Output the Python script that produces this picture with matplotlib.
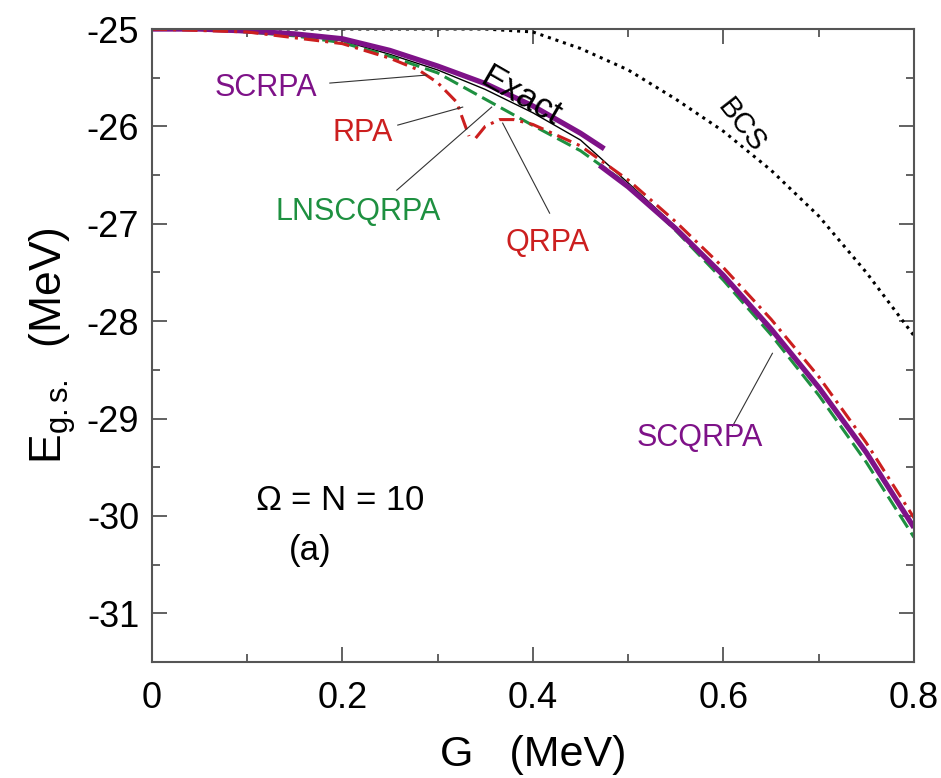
import matplotlib
matplotlib.use('Agg')
import matplotlib.pyplot as plt
from matplotlib.ticker import MultipleLocator

plt.rcParams['font.family'] = ['Liberation Sans', 'DejaVu Sans']
plt.rcParams['mathtext.fontset'] = 'custom'
plt.rcParams['mathtext.rm'] = 'Liberation Sans'
plt.rcParams['mathtext.it'] = 'Liberation Sans'
plt.rcParams['axes.unicode_minus'] = False

# values (G in MeV, E in MeV)
g_bcs = [0, 0.1, 0.2, 0.3, 0.35, 0.4, 0.45, 0.5, 0.55, 0.6, 0.65, 0.7, 0.75, 0.8]
e_bcs = [-25, -25, -25, -25, -25.0, -25.03, -25.2, -25.42, -25.72, -26.05, -26.45, -26.92, -27.5, -28.15]

g_exact = [0, 0.1, 0.2, 0.25, 0.3, 0.35, 0.4, 0.45, 0.5, 0.55, 0.6, 0.65, 0.7, 0.75, 0.8]
e_exact = [-25, -25.02, -25.12, -25.26, -25.42, -25.62, -25.86, -26.14, -26.58, -27.03, -27.52, -28.07, -28.66, -29.33, -30.10]

g_scrpa = [0, 0.05, 0.1, 0.15, 0.2, 0.25, 0.3, 0.35, 0.4, 0.45, 0.475]
e_scrpa = [-25, -25.0, -25.02, -25.05, -25.10, -25.22, -25.38, -25.56, -25.79, -26.07, -26.23]

g_scqrpa = [0.47, 0.5, 0.55, 0.6, 0.65, 0.7, 0.75, 0.8]
e_scqrpa = [-26.40, -26.62, -27.05, -27.53, -28.08, -28.68, -29.35, -30.12]

g_lnscqrpa = [0, 0.05, 0.1, 0.15, 0.2, 0.25, 0.3, 0.35, 0.4, 0.45, 0.5, 0.55, 0.6, 0.65, 0.7, 0.75, 0.8]
e_lnscqrpa = [-25, -25.0, -25.03, -25.07, -25.14, -25.28, -25.45, -25.72, -25.99, -26.25, -26.60, -27.07, -27.58, -28.14, -28.76, -29.45, -30.22]

g_rpa = [0, 0.1, 0.2, 0.25, 0.28, 0.3, 0.32, 0.333]
e_rpa = [-25, -25.03, -25.15, -25.3, -25.42, -25.55, -25.75, -26.1]

g_qrpa = [0.34, 0.35, 0.365, 0.38, 0.4, 0.45, 0.5, 0.55, 0.6, 0.65, 0.7, 0.75, 0.8]
e_qrpa = [-26.12, -26.0, -25.93, -25.93, -25.98, -26.2, -26.55, -26.98, -27.45, -27.98, -28.57, -29.25, -30.02]

xticks = [0, 0.2, 0.4, 0.6, 0.8]
xtick_labels = ['0', '0.2', '0.4', '0.6', '0.8']

purple = '#7e1288'
red = '#cc1f1f'
green = '#1e9040'

fig = plt.figure(figsize=(9.41, 7.78), dpi=100)
ax = fig.add_axes([0.1612, 0.1491, 0.8101, 0.8136])

ax.plot(g_bcs, e_bcs, color='black', linestyle=(0, (1, 1.6)), lw=2.2)
ax.plot(g_exact, e_exact, color='black', lw=1.0)
ax.plot(g_lnscqrpa, e_lnscqrpa, color=green, linestyle=(0, (5, 2)), lw=2.2)
ax.plot(g_scrpa, e_scrpa, color=purple, lw=3.8, solid_capstyle='butt')
ax.plot(g_scqrpa, e_scqrpa, color=purple, lw=3.8, solid_capstyle='butt')
ax.plot(g_rpa, e_rpa, color=red, linestyle=(0, (5, 2, 1, 2)), lw=2.2)
ax.plot(g_qrpa, e_qrpa, color=red, linestyle=(0, (5, 2, 1, 2)), lw=2.2)

ax.set_xlim(0, 0.8)
ax.set_ylim(-31.5, -25)
ax.set_xticks(xticks)
ax.set_xticklabels(xtick_labels, fontsize=26)
ax.xaxis.set_minor_locator(MultipleLocator(0.1))
ax.yaxis.set_major_locator(MultipleLocator(1))
ax.yaxis.set_minor_locator(MultipleLocator(0.5))
ax.tick_params(which='both', direction='in', top=True, right=True, color='#555555', width=1.3)
ax.tick_params(which='major', length=11)
ax.tick_params(axis='y', which='major', labelsize=26, pad=9)
ax.tick_params(axis='x', which='major', pad=14)
ax.tick_params(which='minor', length=6)
for s in ax.spines.values():
    s.set_color('#555555')
    s.set_linewidth(1.5)

ax.set_xlabel('G   (MeV)', fontsize=31, labelpad=13)
ax.set_ylabel(r'E$_{\mathrm{g.s.}}$  (MeV)', fontsize=32, labelpad=6)

# labels with pointer lines (positions given in picture pixels, converted to data)
def px(x, y):
    return ((x - 151.7) / 953.75, -25 - (y - 29) / 97.3)

def label(text, xy_text, xy_tip, xy_line_start, color):
    ax.text(*px(*xy_text), text, color=color, fontsize=22, ha='center', va='center')
    x0, y0 = px(*xy_line_start)
    x1, y1 = px(*xy_tip)
    ax.plot([x0, x1], [y0, y1], color='#333333', lw=0.8)

label('SCRPA', (266, 88), (427, 75), (330, 83), purple)
label('RPA', (363, 133), (463, 107), (398, 125), red)
label('LNSCQRPA', (358, 212), (492, 107), (397, 190), green)
label('QRPA', (548, 243), (503, 123), (550, 213), red)
label('SCQRPA', (700, 438), (773, 353), (733, 426), purple)

ax.text(*px(521, 96), 'Exact', fontsize=25, rotation=-30, ha='center', va='center')
ax.text(*px(742, 126), 'BCS', fontsize=21, rotation=-52, ha='center', va='center')
ax.text(*px(340, 500), r'$\Omega$ = N = 10', fontsize=25, ha='center', va='center')
ax.text(*px(310, 550), '(a)', fontsize=25, ha='center', va='center')

fig.savefig('out.png', dpi=100)
